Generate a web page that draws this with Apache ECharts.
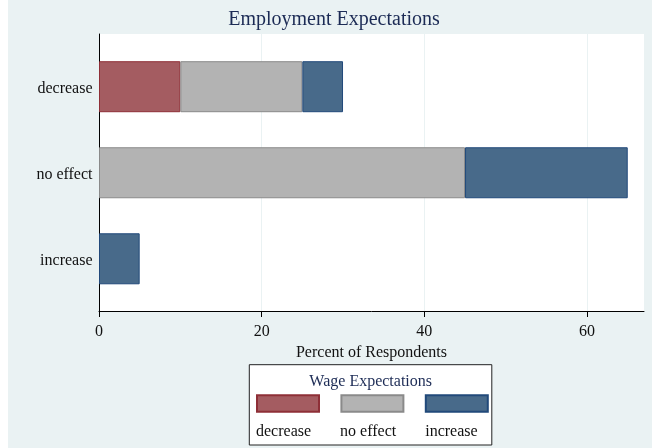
<!DOCTYPE html>
<html>
<head>
<meta charset="utf-8">
<script src="https://cdn.jsdelivr.net/npm/echarts@6/dist/echarts.min.js"></script>
<style>
  html, body { margin: 0; padding: 0; background: #ffffff; }
  #chart { position: absolute; left: 8px; top: 0; width: 644px; height: 448px; }
</style>
</head>
<body>
<div id="chart"></div>
<script>
// ---- data ----
const categories = ['decrease', 'no effect', 'increase'];   // employment expectations
const wageDecrease = [10, null, null];
const wageNoEffect = [15, 45, null];
const wageIncrease = [5, 20, 5];
const xTicks = [0, 20, 40, 60];
const seriesNames = ['decrease', 'no effect', 'increase'];

const FONT = "'Liberation Serif', 'Times New Roman', serif";
const colors = {
  decrease: { fill: '#a45c61', border: '#8e2f37' },
  'no effect': { fill: '#b3b3b3', border: '#8a8a8a' },
  increase: { fill: '#486a8a', border: '#21497a' }
};
const values = [wageDecrease, wageNoEffect, wageIncrease];

const chart = echarts.init(document.getElementById('chart'), null, { renderer: 'canvas' });

const series = seriesNames.map((name, i) => ({
  name: name,
  type: 'bar',
  stack: 'total',
  xAxisIndex: 1,
  yAxisIndex: 1,
  barWidth: 51,
  data: values[i],
  itemStyle: { color: colors[name].fill, borderColor: colors[name].border, borderWidth: 1 },
  emphasis: { disabled: true },
  animation: false
}));

chart.setOption({
  animation: false,
  backgroundColor: '#eaf2f3',
  title: [
    {
      text: 'Employment Expectations',
      left: 326, top: 10, padding: 0, textAlign: 'center',
      textStyle: { fontFamily: FONT, fontSize: 20, fontWeight: 'normal', color: '#1c2b55' }
    },
    {
      text: 'Wage Expectations',
      left: 362.7, top: 373.5, padding: 0, textAlign: 'center',
      textStyle: { fontFamily: FONT, fontSize: 16, fontWeight: 'normal', color: '#1c2b55' },
      z: 10
    }
  ],
  legend: [
    {
      data: seriesNames,
      orient: 'horizontal',
      left: 241.3, top: 364.7,
      padding: [29.6, 3, 32.3, 6.7],
      itemWidth: 62, itemHeight: 16.4, itemGap: 20.4,
      icon: 'rect',
      formatter: () => '',
      backgroundColor: '#ffffff',
      borderColor: '#222222', borderWidth: 1,
      selectedMode: false,
      z: 4
    },
    {
      data: seriesNames.map(n => ({ name: n, icon: 'none' })),
      orient: 'horizontal',
      left: 243, top: 424,
      padding: 0,
      itemWidth: 0, itemHeight: 16, itemGap: 24,
      textStyle: { fontFamily: FONT, fontSize: 16, color: '#111111' },
      selectedMode: false,
      z: 6
    }
  ],
  grid: [
    { left: 91, right: 8, top: 34, bottom: 137, show: true, backgroundColor: '#ffffff', borderWidth: 0, containLabel: false },
    { left: 91, right: 8, top: 43.7, bottom: 146.2, containLabel: false }
  ],
  xAxis: [
    {
      gridIndex: 0, type: 'value', min: 0, max: 67,
      name: 'Percent of Respondents', nameLocation: 'middle', nameGap: 24,
      nameTextStyle: { fontFamily: FONT, fontSize: 16, color: '#111111' },
      axisLine: { show: true, lineStyle: { color: '#000000', width: 1 } },
      axisTick: { show: true, customValues: xTicks, length: 6, lineStyle: { color: '#000000' } },
      axisLabel: { show: true, customValues: xTicks, margin: 13, fontFamily: FONT, fontSize: 16, color: '#111111' },
      splitLine: { show: true, lineStyle: { color: '#eaf2f3', width: 1 } }
    },
    { gridIndex: 1, type: 'value', min: 0, max: 67, show: false }
  ],
  yAxis: [
    {
      gridIndex: 0, type: 'value', min: 0, max: 1,
      axisLine: { show: true, lineStyle: { color: '#000000', width: 1 } },
      axisTick: { show: false }, axisLabel: { show: false }, splitLine: { show: false }
    },
    {
      gridIndex: 1, type: 'category', data: categories, inverse: true,
      axisLine: { show: false }, axisTick: { show: false }, splitLine: { show: false },
      axisLabel: {
        margin: 6.5,
        formatter: v => '{c|' + v + '}',
        rich: { c: { fontFamily: FONT, fontSize: 16, color: '#111111', padding: [5, 0, 0, 0] } }
      }
    }
  ],
  series: series
});
</script>
</body>
</html>
